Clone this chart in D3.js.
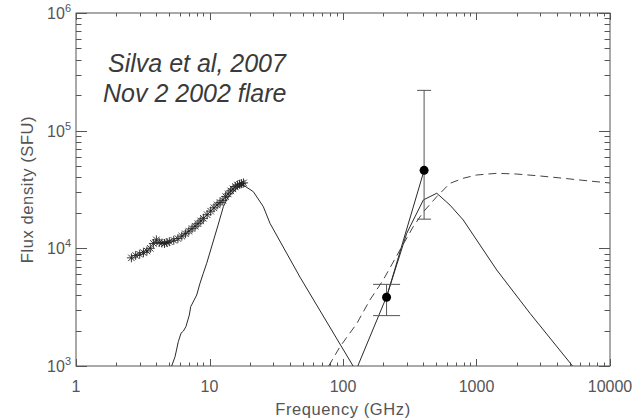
<!DOCTYPE html>
<html><head><meta charset="utf-8">
<script src="https://cdn.jsdelivr.net/npm/d3@7"></script>
<style>body{margin:0;background:#fff} svg{display:block}</style>
</head><body><svg id="c" width="634" height="419"></svg>
<script>
// ---------- data ----------
const xTickValues = [1, 10, 100, 1000, 10000];
const xTickLabels = ["1", "10", "100", "1000", "10000"];
const yTickValues = [1e3, 1e4, 1e5, 1e6];
const yTickExponents = ["3", "4", "5", "6"];

const starFreq = [2.6, 2.8, 3.0, 3.2, 3.4, 3.6, 3.8, 4.0, 4.2, 4.4, 4.6, 4.8, 5.0, 5.4, 5.8, 6.2, 6.6, 7.0, 7.4, 7.8,
                  8.2, 8.6, 9.0, 9.6, 10.2, 10.8, 11.4, 12.0, 12.6, 13.2, 13.8, 14.4, 15.0, 15.6, 16.2, 16.8, 17.4, 18.0];
const starFlux = [8300, 8700, 8900, 9200, 9500, 10000, 11000, 11800, 11200, 11100, 11000, 11200, 11400, 11700, 12100, 12700, 13300, 14000, 14700, 15400,
                  16200, 17100, 18000, 19300, 20700, 22100, 23400, 24500, 25600, 27500, 29000, 30800, 32000, 33500, 34500, 35000, 35500, 36000];

const lowModelFreq = [5.0, 5.21, 5.52, 5.84, 6.12, 6.37, 6.66, 7.06, 7.23, 8.02, 8.49, 8.99, 9.53, 10.2, 11.6, 12.7, 13.8, 16.0, 17.9, 21.3, 25.3, 28.4, 47.6, 119, 130];
const lowModelFlux = [800, 1000, 1200, 1610, 1900, 1980, 2160, 2710, 3190, 4010, 5050, 6140, 7470, 9680, 15800, 22600, 27500, 32400, 34500, 30300, 22600, 16300, 5700, 1000, 850];

const highModelFreq = [125, 130, 212, 300, 400, 504, 633, 796, 1417, 2518, 5170, 5600];
const highModelFlux = [850, 1020, 3880, 13400, 25800, 29400, 23300, 17400, 6550, 2800, 1020, 900];

const dashedFreq = [70, 78.9, 95, 127, 159, 200, 267, 336, 400, 504, 633, 796, 1003, 1417, 2000, 2990, 4470, 7080, 10000];
const dashedFlux = [800, 1020, 1460, 2300, 3640, 5380, 9680, 15300, 20400, 27500, 35700, 39400, 42000, 43400, 42800, 41200, 39400, 37300, 35900];

const pointFreq = [212, 405];
const pointFlux = [3840, 46000];
const errLow = [2680, 17700];
const errHigh = [4940, 220000];

const annotation = ["Silva et al, 2007", "Nov 2 2002 flare"];
const xTitle = "Frequency (GHz)";
const yTitle = "Flux density (SFU)";

// ---------- layout ----------
const L = 76, R = 610, T = 13, B = 366;
const svg = d3.select("#c");
const x = d3.scaleLog().domain([1, 10000]).range([L, R]);
const y = d3.scaleLog().domain([1e3, 1e6]).range([B, T]);
const axisCol = "#555", textCol = "#555", lineCol = "#2a2a2a";

svg.append("clipPath").attr("id", "clip").append("rect")
  .attr("x", L).attr("y", T).attr("width", R - L).attr("height", B - T);

// frame
svg.append("rect").attr("x", L).attr("y", T).attr("width", R - L).attr("height", B - T)
  .attr("fill", "none").attr("stroke", axisCol).attr("stroke-width", 1);

// ticks
const xMinor = [], yMinor = [];
for (let d = 0; d < 4; d++) for (let k = 2; k <= 9; k++) xMinor.push(k * Math.pow(10, d));
for (let d = 3; d < 6; d++) for (let k = 2; k <= 9; k++) yMinor.push(k * Math.pow(10, d));
const tg = svg.append("g").attr("stroke", axisCol).attr("stroke-width", 1);
function xt(v, len) {
  const px = Math.round(x(v)) + 0.5;
  tg.append("line").attr("x1", px).attr("x2", px).attr("y1", B).attr("y2", B - len);
  tg.append("line").attr("x1", px).attr("x2", px).attr("y1", T).attr("y2", T + len);
}
function yt(v, len) {
  const py = Math.round(y(v)) + 0.5;
  tg.append("line").attr("x1", L).attr("x2", L + len).attr("y1", py).attr("y2", py);
  tg.append("line").attr("x1", R).attr("x2", R - len).attr("y1", py).attr("y2", py);
}
xMinor.forEach(v => xt(v, 3.5));
xTickValues.forEach(v => xt(v, 7));
yMinor.forEach(v => yt(v, 5.5));
yTickValues.forEach(v => yt(v, 11));

// tick labels
const font = "'Liberation Sans', Arial, sans-serif";
xTickValues.forEach((v, i) => {
  svg.append("text").attr("x", x(v)).attr("y", 392).attr("text-anchor", "middle")
    .attr("font-family", font).attr("font-size", 16).attr("fill", textCol).text(xTickLabels[i]);
});
yTickValues.forEach((v, i) => {
  const t = svg.append("text").attr("x", 71).attr("y", y(v) + 6).attr("text-anchor", "end")
    .attr("font-family", font).attr("font-size", 16).attr("fill", textCol);
  t.append("tspan").text("10");
  t.append("tspan").attr("font-size", 11).attr("dy", -7).text(yTickExponents[i]);
});

// titles
svg.append("text").attr("x", (L + R) / 2).attr("y", 415).attr("text-anchor", "middle")
  .attr("font-family", font).attr("font-size", 16.5).attr("letter-spacing", 0.6).attr("fill", textCol).text(xTitle);
svg.append("text").attr("transform", `translate(33,${(T + B) / 2}) rotate(-90)`).attr("text-anchor", "middle")
  .attr("font-family", font).attr("font-size", 16.5).attr("letter-spacing", 0.6).attr("fill", textCol).text(yTitle);

// curves
const plot = svg.append("g").attr("clip-path", "url(#clip)");
const line = d3.line().x(d => x(d[0])).y(d => y(d[1]));
plot.append("path").datum(lowModelFreq.map((f, i) => [f, lowModelFlux[i]]))
  .attr("d", line).attr("fill", "none").attr("stroke", lineCol).attr("stroke-width", 1);
plot.append("path").datum(highModelFreq.map((f, i) => [f, highModelFlux[i]]))
  .attr("d", line).attr("fill", "none").attr("stroke", lineCol).attr("stroke-width", 1);
plot.append("path").datum(dashedFreq.map((f, i) => [f, dashedFlux[i]]))
  .attr("d", line).attr("fill", "none").attr("stroke", "#444").attr("stroke-width", 1)
  .attr("stroke-dasharray", "8,5");
plot.append("path").datum(pointFreq.map((f, i) => [f, pointFlux[i]]))
  .attr("d", line).attr("fill", "none").attr("stroke", lineCol).attr("stroke-width", 1);

// stars
const starR = 4.5, dg = starR * 0.72;
const starPath = `M${-starR},0H${starR}M0,${-starR}V${starR}M${-dg},${-dg}L${dg},${dg}M${-dg},${dg}L${dg},${-dg}`;
plot.selectAll(".star").data(starFreq.map((f, i) => [f, starFlux[i]])).enter().append("path")
  .attr("transform", d => `translate(${x(d[0])},${y(d[1])})`).attr("d", starPath)
  .attr("fill", "none").attr("stroke", "#222").attr("stroke-width", 0.9);

// error bars
const capHalf = [13.5, 7];
pointFreq.forEach((f, i) => {
  const px = x(f);
  plot.append("line").attr("x1", px).attr("x2", px).attr("y1", y(errLow[i])).attr("y2", y(errHigh[i]))
    .attr("stroke", axisCol).attr("stroke-width", 1);
  [errLow[i], errHigh[i]].forEach(v => {
    plot.append("line").attr("x1", px - capHalf[i]).attr("x2", px + capHalf[i]).attr("y1", y(v)).attr("y2", y(v))
      .attr("stroke", axisCol).attr("stroke-width", 1);
  });
  plot.append("circle").attr("cx", px).attr("cy", y(pointFlux[i])).attr("r", 4.5).attr("fill", "#000");
});

// annotation
annotation.forEach((s, i) => {
  svg.append("text").attr("x", i === 0 ? 108 : 103).attr("y", 72 + i * 30)
    .attr("font-family", font).attr("font-style", "italic").attr("font-size", 25)
    .attr("fill", "#3a3a3a").text(s);
});
</script></body></html>
